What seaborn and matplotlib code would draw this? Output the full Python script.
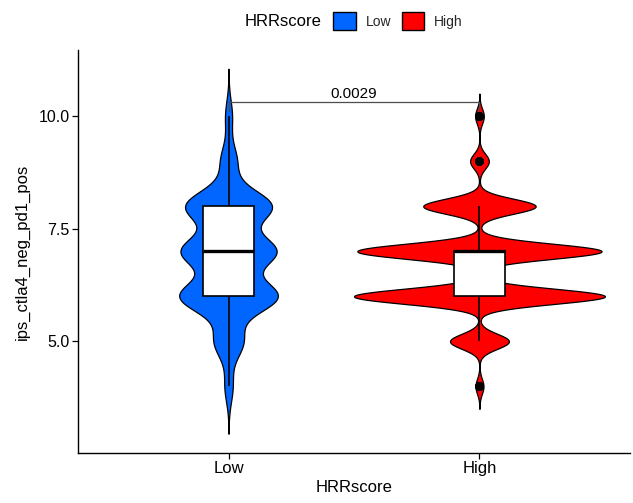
import numpy as np
import pandas as pd
import matplotlib
matplotlib.use("Agg")
import matplotlib.pyplot as plt
from matplotlib.patches import Patch
import seaborn as sns

# ---- data ----
groups = ["Low", "High"]
score_values = [4, 5, 6, 7, 8, 9, 10]
low_counts = [7, 25, 84, 81, 74, 14, 6]
high_counts = [12, 88, 375, 365, 168, 28, 13]
group_colors = ["#0066FF", "#FF0000"]
p_value_label = "0.0029"
y_ticks = [5.0, 7.5, 10.0]
y_tick_labels = ["5.0", "7.5", "10.0"]

df = pd.DataFrame({
    "HRRscore": np.repeat(groups, [sum(low_counts), sum(high_counts)]),
    "ips_ctla4_neg_pd1_pos": np.concatenate([
        np.repeat(score_values, low_counts),
        np.repeat(score_values, high_counts),
    ]).astype(float),
})


def nrd0_factor(kde):
    """R's bw.nrd0 expressed as a scipy gaussian_kde factor."""
    x = kde.dataset[0]
    sd = np.std(x, ddof=1)
    q75, q25 = np.percentile(x, [75, 25])
    lo = min(sd, (q75 - q25) / 1.34)
    bw = 0.9 * lo * len(x) ** (-0.2)
    return bw / sd


sns.set_theme(style="ticks")
plt.rcParams["font.family"] = ["Liberation Sans", "DejaVu Sans"]

fig = plt.figure(figsize=(6.33, 5.03), dpi=100)
ax = fig.add_axes([78 / 633, 1 - 453 / 503, (630 - 78) / 633, (453 - 50) / 503])

palette = dict(zip(groups, group_colors))
sns.violinplot(
    data=df, x="HRRscore", y="ips_ctla4_neg_pd1_pos", hue="HRRscore",
    order=groups, hue_order=groups, palette=palette, inner=None, cut=3,
    width=1.0, density_norm="area", common_norm=True, linecolor="black",
    linewidth=0.9, saturation=1, bw_method=nrd0_factor, gridsize=512,
    legend=False, ax=ax,
)
sns.boxplot(
    data=df, x="HRRscore", y="ips_ctla4_neg_pd1_pos", order=groups,
    width=0.2, color="white", linecolor="black", linewidth=1.2,
    saturation=1, showcaps=False, fliersize=5,
    flierprops=dict(marker="o", markerfacecolor="black", markeredgecolor="black"),
    medianprops=dict(linewidth=2.4), ax=ax,
)

# significance bracket
bracket_y = df["ips_ctla4_neg_pd1_pos"].max() + 0.31
tip = 0.2
ax.plot([0, 0, 1, 1], [bracket_y - tip, bracket_y, bracket_y, bracket_y - tip],
        color="#4d4d4d", linewidth=0.9, zorder=5)
ax.text(0.5, bracket_y + 0.03, p_value_label, ha="center", va="bottom",
        fontsize=11, color="black")

ax.set_xlim(-0.6, 1.6)
ax.set_ylim(2.52, 11.47)
ax.set_yticks(y_ticks)
ax.set_yticklabels(y_tick_labels)
ax.tick_params(axis="both", length=4, width=0.9, color="black", labelsize=11.5,
               labelcolor="black", pad=2)
ax.tick_params(axis="x", labelsize=12)
for side in ["top", "right"]:
    ax.spines[side].set_visible(False)
for side in ["left", "bottom"]:
    ax.spines[side].set_linewidth(1.0)
    ax.spines[side].set_color("black")
ax.set_xlabel("HRRscore", fontsize=12, color="black", labelpad=3)
ax.set_ylabel("ips_ctla4_neg_pd1_pos", fontsize=12, color="black", labelpad=6)

handles = [Patch(facecolor=c, edgecolor="black", linewidth=1.0) for c in group_colors]
ax.legend(
    handles, groups, loc="center left", bbox_to_anchor=(333 / 633, 1 - 21 / 503),
    bbox_transform=fig.transFigure, ncol=2, title=None, frameon=False,
    fontsize=10, handlelength=1.65, handleheight=1.65, handletextpad=0.7,
    columnspacing=0.75, borderpad=0, borderaxespad=0,
)
fig.text(322 / 633, 1 - 21 / 503, "HRRscore", ha="right", va="center",
         fontsize=12, color="black")

fig.savefig("out.png", dpi=100)
